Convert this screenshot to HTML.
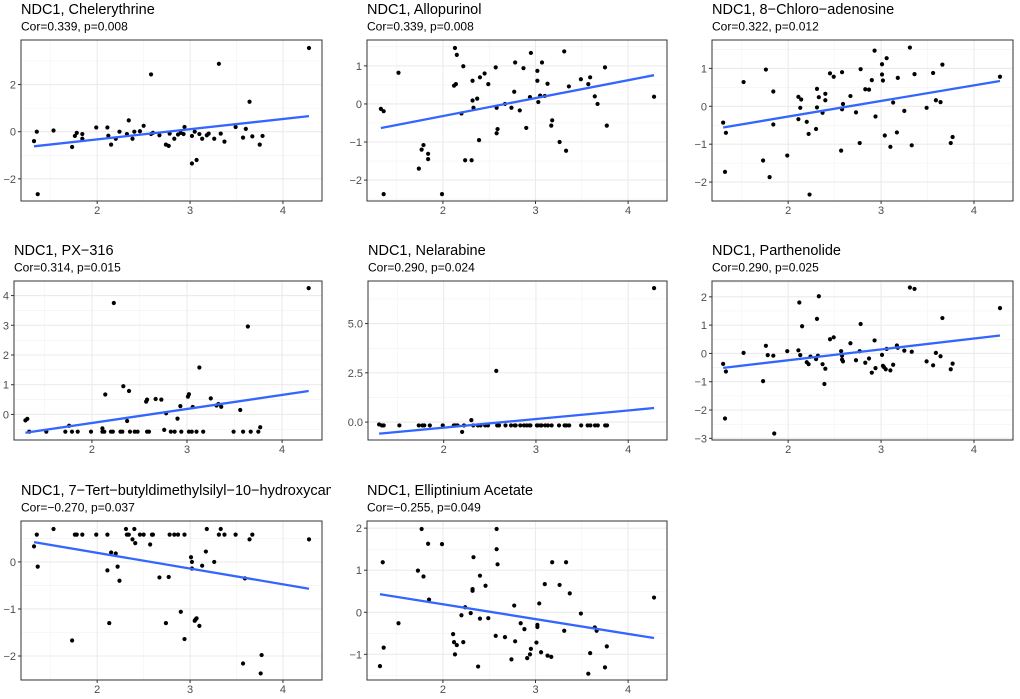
<!DOCTYPE html>
<html><head><meta charset="utf-8"><style>
html,body{margin:0;padding:0;background:#fff;}
svg{display:block;font-family:"Liberation Sans",Arial,sans-serif;}
</style></head><body>
<svg id="chart" width="1020" height="699" viewBox="0 0 1020 699" xmlns="http://www.w3.org/2000/svg"></svg>
<script>
// ---------- Data ----------
const p1x=[1.32,1.35,1.36,1.53,1.73,1.76,1.78,1.84,1.84,1.99,2.11,2.12,2.15,2.2,2.24,2.32,2.34,2.38,2.4,2.46,2.5,2.58,2.58,2.6,2.67,2.74,2.77,2.78,2.83,2.87,2.9,2.93,2.94,3.02,3.02,3.05,3.07,3.1,3.13,3.18,3.2,3.26,3.31,3.33,3.37,3.49,3.57,3.6,3.64,3.67,3.75,3.78,4.28];
const p1y=[-0.4,0,-2.65,0.05,-0.65,-0.18,-0.05,-0.1,-0.3,0.18,0.18,-0.17,-0.55,-0.3,0,-0.1,0.48,-0.3,0,0.02,0.25,-0.1,2.43,-0.05,-0.15,-0.55,-0.6,-0.08,-0.3,-0.12,-0.05,-0.1,0.2,-0.18,-1.35,0,-1.2,-0.1,-0.3,-0.15,-0.08,-0.3,2.88,-0.08,-0.42,0.2,-0.25,0.12,1.27,-0.2,-0.55,-0.18,3.55];
const p2x=[1.33,1.36,1.52,1.74,1.77,1.79,1.84,1.84,1.99,1.36,2.12,2.14,2.13,2.15,2.2,2.22,2.24,2.31,2.32,2.32,2.33,2.37,2.39,2.4,2.45,2.49,2.57,2.58,2.58,2.59,2.67,2.74,2.77,2.78,2.83,2.87,2.9,2.94,2.95,3.02,3.02,3.03,3.05,3.07,3.1,3.13,3.17,3.18,3.26,3.31,3.33,3.36,3.49,3.57,3.59,3.64,3.67,3.75,3.77,4.28];
const p2y=[-0.13,-0.19,0.82,-1.7,-1.2,-1.08,-1.31,-1.45,-2.37,-2.37,0.48,0.52,1.47,1.29,-0.25,0.99,-1.48,-1.48,0.61,0.09,-0.1,0.14,-0.95,0.7,0.8,0.52,0.96,-0.1,-0.77,-0.66,0,-0.1,0.32,1.09,-0.17,0.94,-0.63,0.18,1.34,0.61,0.87,0.05,0.22,1.09,0.21,0.53,-0.57,-0.43,-1.0,1.38,-1.23,0.46,0.65,0.52,0.7,0.2,0,0.96,-0.57,0.19];
const p3x=[1.3,1.33,1.32,1.52,1.73,1.76,1.8,1.84,1.84,1.99,2.11,2.11,2.13,2.14,2.2,2.22,2.23,2.3,2.31,2.31,2.33,2.37,2.4,2.4,2.45,2.49,2.57,2.58,2.58,2.59,2.67,2.73,2.77,2.78,2.83,2.87,2.9,2.93,2.94,3.01,3.01,3.02,3.04,3.06,3.1,3.13,3.17,3.18,3.25,3.31,3.33,3.36,3.49,3.56,3.59,3.64,3.66,3.75,3.77,4.28];
const p3y=[-0.43,-0.7,-1.73,0.64,-1.43,0.97,-1.87,0.39,-0.48,-1.3,-0.34,0.25,-0.04,0.18,-0.41,-0.73,-2.33,-0.6,-0.03,0.46,0.24,-0.17,0.33,0.16,0.87,0.78,-1.17,-0.08,0.9,0.06,0.27,-0.16,-0.97,0.98,0.45,0.44,0.69,1.47,-0.27,0.84,1.11,0.68,-0.77,1.27,-1.07,0.1,-0.69,0.75,-0.12,1.55,-1.03,0.85,-0.04,0.88,0.16,0.11,1.1,-0.97,-0.81,0.78];
const p4x=[1.3,1.32,1.34,1.52,1.72,1.76,1.79,1.85,1.99,2.11,2.11,2.13,2.14,2.2,2.22,2.23,2.3,2.32,2.33,2.37,2.39,2.4,2.45,2.48,2.57,2.58,2.58,2.6,2.67,2.73,2.76,2.78,2.83,2.87,2.9,2.93,2.94,3.01,3.02,3.02,3.05,3.06,3.1,3.13,3.17,3.25,3.31,3.33,3.36,3.49,3.56,3.59,3.64,3.67,3.75,3.77,4.28];
const p4y=[-0.2,-0.15,-0.58,-0.58,-0.58,-0.38,-0.58,-0.58,-0.58,-0.47,-0.58,-0.58,0.67,-0.58,-0.58,3.75,-0.58,-0.58,0.95,-0.22,0.79,-0.58,-0.58,-0.58,0.43,0.5,-0.58,-0.58,0.52,0.5,-0.52,0.04,-0.58,-0.58,-0.14,0.28,-0.58,0.6,0.68,-0.58,-0.58,0.25,-0.58,1.58,-0.58,0.54,0.3,0.35,0.26,-0.58,0.15,-0.58,2.96,-0.58,-0.58,-0.43,4.25];
const p5x=[1.3,1.33,1.35,1.52,1.73,1.77,1.79,1.85,1.99,2.11,2.13,2.15,2.2,2.22,2.3,2.32,2.37,2.4,2.45,2.48,2.57,2.58,2.6,2.67,2.73,2.77,2.78,2.83,2.87,2.9,2.93,2.94,3.01,3.02,3.05,3.06,3.1,3.13,3.17,3.25,3.31,3.33,3.36,3.49,3.56,3.59,3.64,3.67,3.75,3.77,4.28];
const p5y=[-0.12,-0.17,-0.17,-0.17,-0.17,-0.17,-0.17,-0.17,-0.17,-0.17,-0.17,-0.17,-0.5,-0.17,0.1,-0.17,-0.17,-0.17,-0.17,-0.17,2.6,-0.17,-0.17,-0.17,-0.17,-0.17,-0.17,-0.17,-0.17,-0.17,-0.17,-0.17,-0.17,-0.17,-0.17,-0.17,-0.17,-0.17,-0.17,-0.17,-0.17,-0.17,-0.17,-0.17,-0.17,-0.17,-0.17,-0.17,-0.17,-0.17,6.8];
const p6x=[1.3,1.33,1.32,1.52,1.73,1.76,1.78,1.84,1.85,1.99,2.11,2.12,2.13,2.15,2.2,2.22,2.24,2.3,2.31,2.32,2.33,2.37,2.4,2.39,2.45,2.49,2.57,2.58,2.58,2.59,2.67,2.73,2.77,2.78,2.83,2.87,2.9,2.93,2.94,3.01,3.02,3.03,3.05,3.06,3.1,3.13,3.17,3.18,3.25,3.31,3.33,3.36,3.49,3.56,3.59,3.64,3.66,3.75,3.77,4.28];
const p6y=[-0.37,-0.64,-2.3,0.02,-0.98,0.27,-0.06,-0.08,-2.83,0.08,0.11,1.8,-0.06,0.96,-0.31,-0.38,-0.11,-0.2,1.22,-0.08,2.02,-0.38,-0.54,-1.08,0.5,0.57,0.08,-0.08,-0.22,-0.28,0.36,-0.24,0.08,1.04,-0.33,-0.18,-0.68,0.46,-0.52,-0.05,-0.44,-0.48,-0.56,0.16,-0.6,-0.4,0.28,0.2,0.1,2.33,0.06,2.28,-0.28,-0.42,0.02,-0.1,1.25,-0.56,-0.36,1.6];
const p7x=[1.32,1.35,1.36,1.53,1.76,1.78,1.84,1.73,1.99,2.11,2.11,2.13,2.15,2.2,2.22,2.24,2.31,2.32,2.34,2.38,2.4,2.41,2.46,2.5,2.57,2.59,2.6,2.67,2.74,2.77,2.78,2.83,2.87,2.9,2.94,2.94,3.01,3.02,3.02,3.05,3.06,3.07,3.1,3.13,3.17,3.18,3.26,3.31,3.33,3.37,3.49,3.57,3.59,3.64,3.67,3.76,3.77,4.28];
const p7y=[0.33,0.58,-0.1,0.7,0.58,0.58,0.58,-1.67,0.58,0.58,-0.18,-1.3,0.2,0.18,-0.1,-0.4,0.7,0.58,0.58,0.48,0.7,0.4,0.58,0.58,0.37,0.58,0.58,-0.33,-1.3,-0.32,0.58,0.58,0.58,-1.06,0.58,-1.64,0.1,0,-0.14,-1.25,-1.22,-1.2,-1.36,-0.08,0.22,0.7,0,0.58,0.7,0.58,0.58,-2.16,-0.35,0.48,0.58,-2.37,-1.98,0.48];
const p8x=[1.32,1.35,1.36,1.52,1.73,1.77,1.79,1.84,1.85,1.99,2.11,2.12,2.13,2.15,2.2,2.22,2.24,2.3,2.32,2.32,2.33,2.38,2.4,2.4,2.46,2.49,2.57,2.58,2.58,2.59,2.67,2.74,2.77,2.78,2.84,2.88,2.91,2.94,2.95,3.01,3.02,3.02,3.04,3.06,3.1,3.13,3.17,3.18,3.26,3.31,3.33,3.37,3.49,3.57,3.59,3.64,3.66,3.75,3.77,4.28];
const p8y=[-1.28,1.19,-0.84,-0.26,0.99,1.98,0.85,1.63,0.3,1.62,-0.52,-0.71,-1.0,-0.78,-0.07,-0.71,0.12,-0.02,0.55,0.51,1.31,-1.29,0.87,-0.15,0.63,-0.14,-0.56,1.5,1.98,1.14,-0.59,-1.12,0.16,-0.69,-0.26,-0.4,-1.09,-1.0,-0.87,-0.72,-0.35,-0.3,0.21,-0.95,0.67,-1.03,-1.06,1.19,0.65,-0.44,1.19,0.45,-0.03,-1.46,-0.97,-0.36,-0.44,-1.31,-0.81,0.35];
const titles=["NDC1, Chelerythrine","NDC1, Allopurinol","NDC1, 8\u2212Chloro\u2212adenosine","NDC1, PX\u2212316","NDC1, Nelarabine","NDC1, Parthenolide","NDC1, 7\u2212Tert\u2212butyldimethylsilyl\u221210\u2212hydroxycamptothecin","NDC1, Elliptinium Acetate"];
const subtitles=["Cor=0.339, p=0.008","Cor=0.339, p=0.008","Cor=0.322, p=0.012","Cor=0.314, p=0.015","Cor=0.290, p=0.024","Cor=0.290, p=0.025","Cor=\u22120.270, p=0.037","Cor=\u22120.255, p=0.049"];
const yTicks=[[-2,0,2],[-2,-1,0,1],[-2,-1,0,1],[0,1,2,3,4],[0,2.5,5],[-3,-2,-1,0,1,2],[-2,-1,0],[-1,0,1,2]];
const yTickLabels=[["\u22122","0","2"],["\u22122","\u22121","0","1"],["\u22122","\u22121","0","1"],["0","1","2","3","4"],["0.0","2.5","5.0"],["\u22123","\u22122","\u22121","0","1","2"],["\u22122","\u22121","0"],["\u22121","0","1","2"]];
const yDomains=[[-2.94,3.89],[-2.55,1.68],[-2.5,1.75],[-0.86,4.49],[-0.91,7.16],[-3.06,2.56],[-2.51,0.87],[-1.61,2.17]];
const xTicks=[2,3,4];
const xDomain=[1.18,4.42];

// ---------- Layout ----------
const XS=[p1x,p2x,p3x,p4x,p5x,p6x,p7x,p8x];
const YS=[p1y,p2y,p3y,p4y,p5y,p6y,p7y,p8y];
const boxes=[[21,322,40,201],[367,667,40,201],[712,1013,40,201],[14,322,281,440],[368,667,281,440],[712,1013,281,440],[21,322,521,680],[367,667,521,680]];
const colStart=[0,340,680];
const NS="http://www.w3.org/2000/svg";
const svg=document.getElementById('chart');
function mk(tag,attrs,parent){const e=document.createElementNS(NS,tag);for(const k in attrs)e.setAttribute(k,attrs[k]);parent.appendChild(e);return e;}

const defs=mk('defs',{},svg);
for(let i=0;i<8;i++){
  const [L,R,T,B]=boxes[i];
  const xs=XS[i], ys=YS[i], yd=yDomains[i];
  const sx=v=>L+(v-xDomain[0])/(xDomain[1]-xDomain[0])*(R-L);
  const sy=v=>B-(v-yd[0])/(yd[1]-yd[0])*(B-T);
  const g=mk('g',{},svg);
  
  
  const col=i%3;
  const cp=mk('clipPath',{id:'tc'+i},defs);
  mk('rect',{x:colStart[col],y:T-45,width:331,height:45},cp);
  const tt=mk('text',{x:L,y:T-26,'font-size':'14.5','fill':'#000','clip-path':'url(#tc'+i+')'},g);
  tt.textContent=titles[i];
  
  
  const st=mk('text',{x:L,y:T-9.5,'font-size':'12','fill':'#000'},g);
  st.textContent=subtitles[i];
  
  
  const pc=mk('clipPath',{id:'pc'+i},defs);
  mk('rect',{x:L,y:T,width:R-L,height:B-T},pc);
  const grid=mk('g',{'clip-path':'url(#pc'+i+')'},g);
  
  
  for(let v=1.5;v<=4.5;v+=1){mk('line',{x1:sx(v),x2:sx(v),y1:T,y2:B,stroke:'#f2f2f2','stroke-width':0.6},grid);}
  const yt=yTicks[i], step=yt[1]-yt[0];
  for(let k=-1;k<yt.length;k++){const v=yt[0]+(k+0.5)*step;mk('line',{x1:L,x2:R,y1:sy(v),y2:sy(v),stroke:'#f2f2f2','stroke-width':0.6},grid);}
  xTicks.forEach(v=>mk('line',{x1:sx(v),x2:sx(v),y1:T,y2:B,stroke:'#ebebeb','stroke-width':1.1},grid));
  yt.forEach(v=>mk('line',{x1:L,x2:R,y1:sy(v),y2:sy(v),stroke:'#ebebeb','stroke-width':1.1},grid));
  const pts=mk('g',{'clip-path':'url(#pc'+i+')'},g);
  for(let j=0;j<xs.length;j++){
    const c=mk('circle',{cx:sx(xs[j]),cy:sy(ys[j]),r:2.1,fill:'#000'},pts);
    
    
  }
  const n=xs.length;let mx=0,my=0;for(let j=0;j<n;j++){mx+=xs[j];my+=ys[j];}mx/=n;my/=n;
  let sxy=0,sxx=0;for(let j=0;j<n;j++){sxy+=(xs[j]-mx)*(ys[j]-my);sxx+=(xs[j]-mx)**2;}
  const b=sxy/sxx,a=my-b*mx;const x0=Math.min(...xs),x1=Math.max(...xs);
  const ln=mk('line',{x1:sx(x0),y1:sy(a+b*x0),x2:sx(x1),y2:sy(a+b*x1),stroke:'#3366FF','stroke-width':2.3},g);
  
  
  const bd=mk('rect',{x:L,y:T,width:R-L,height:B-T,fill:'none',stroke:'#333','stroke-width':1},g);
  
  
  const xa=mk('g',{},g);
  
  
  xTicks.forEach(v=>{mk('line',{x1:sx(v),x2:sx(v),y1:B,y2:B+3,stroke:'#333'},xa);
    const t=mk('text',{x:sx(v),y:B+13,'font-size':'11','fill':'#4d4d4d','text-anchor':'middle'},xa);t.textContent=String(v);});
  const ya=mk('g',{},g);
  
  
  yt.forEach((v,k)=>{mk('line',{x1:L-3,x2:L,y1:sy(v),y2:sy(v),stroke:'#333'},ya);
    const t=mk('text',{x:L-5,y:sy(v)+4,'font-size':'11','fill':'#4d4d4d','text-anchor':'end'},ya);t.textContent=yTickLabels[i][k];});
}
</script>
</body></html>
